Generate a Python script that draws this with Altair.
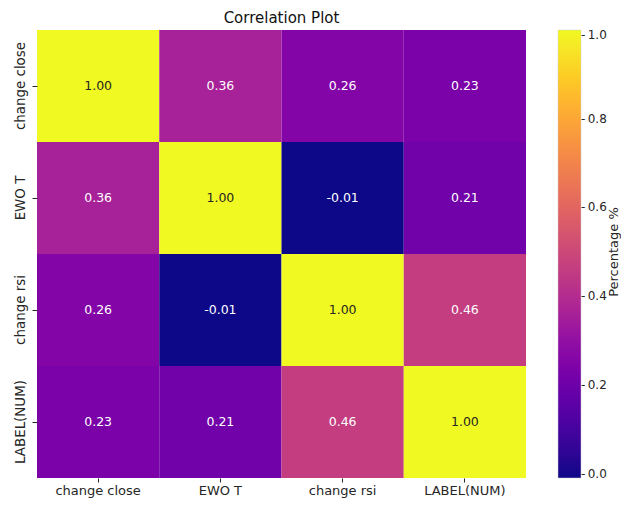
import altair as alt
import pandas as pd

variables = ["change close", "EWO T", "change rsi", "LABEL(NUM)"]
row_change_close = [1.00, 0.36, 0.26, 0.23]
row_ewo_t = [0.36, 1.00, -0.01, 0.21]
row_change_rsi = [0.26, -0.01, 1.00, 0.46]
row_label_num = [0.23, 0.21, 0.46, 1.00]
rows = [row_change_close, row_ewo_t, row_change_rsi, row_label_num]
legend_ticks = [0.0, 0.2, 0.4, 0.6, 0.8, 1.0]
legend_title = "Percentage %"

records = []
for i, rname in enumerate(variables):
    for j, cname in enumerate(variables):
        v = rows[i][j]
        records.append({"row": rname, "col": cname, "value": v, "label": f"{v:.2f}"})
df = pd.DataFrame(records)

font = "DejaVu Sans"
ink = "#262626"

base = alt.Chart(df).encode(
    x=alt.X("col:N", sort=variables, title=None,
            axis=alt.Axis(labelAngle=0, labelFontSize=13, labelFont=font,
                          labelColor=ink, tickColor=ink, domain=False,
                          tickSize=4, labelPadding=2)),
    y=alt.Y("row:N", sort=variables, title=None,
            axis=alt.Axis(labelAngle=-90, labelFontSize=13.4, labelFont=font,
                          labelColor=ink, tickColor=ink, domain=False,
                          tickSize=5, labelPadding=5, labelAlign="center",
                          labelBaseline="bottom")),
)

heat = base.mark_rect().encode(
    color=alt.Color("value:Q",
                    scale=alt.Scale(scheme="plasma", domain=[-0.01, 1.0]),
                    legend=alt.Legend(title=None,
                                      values=legend_ticks, format=".1f",
                                      labelExpr="'-\u2009' + datum.label",
                                      gradientLength=448, gradientThickness=23,
                                      labelFont=font, labelFontSize=12,
                                      labelColor=ink, offset=32,
                                      labelOffset=0,
                                      gradientStrokeColor="#cccccc",
                                      gradientStrokeWidth=0.5))
)

text = base.mark_text(font=font, fontSize=12.5).encode(
    text=alt.Text("label:N"),
    color=alt.condition(alt.datum.value > 0.8, alt.value(ink), alt.value("#ffffff")),
)

title_df = pd.DataFrame({"t": [legend_title]})
legend_title_mark = alt.Chart(title_df).mark_text(
    font=font, fontSize=13, angle=270, color=ink, align="center", baseline="middle"
).encode(text="t:N", x=alt.value(577), y=alt.value(222))

chart = (heat + text + legend_title_mark).properties(
    width=489, height=448,
    title=alt.TitleParams("Correlation Plot", font=font, fontSize=15,
                          fontWeight="normal", color="#111111", offset=4),
    autosize=alt.AutoSizeParams(type="none"),
    padding={"left": 29, "top": 22, "right": 95, "bottom": 20},
).configure_view(stroke=None).configure_scale(bandPaddingInner=0, bandPaddingOuter=0)

chart.save("out.html", embed_options={"renderer": "svg", "actions": False})
